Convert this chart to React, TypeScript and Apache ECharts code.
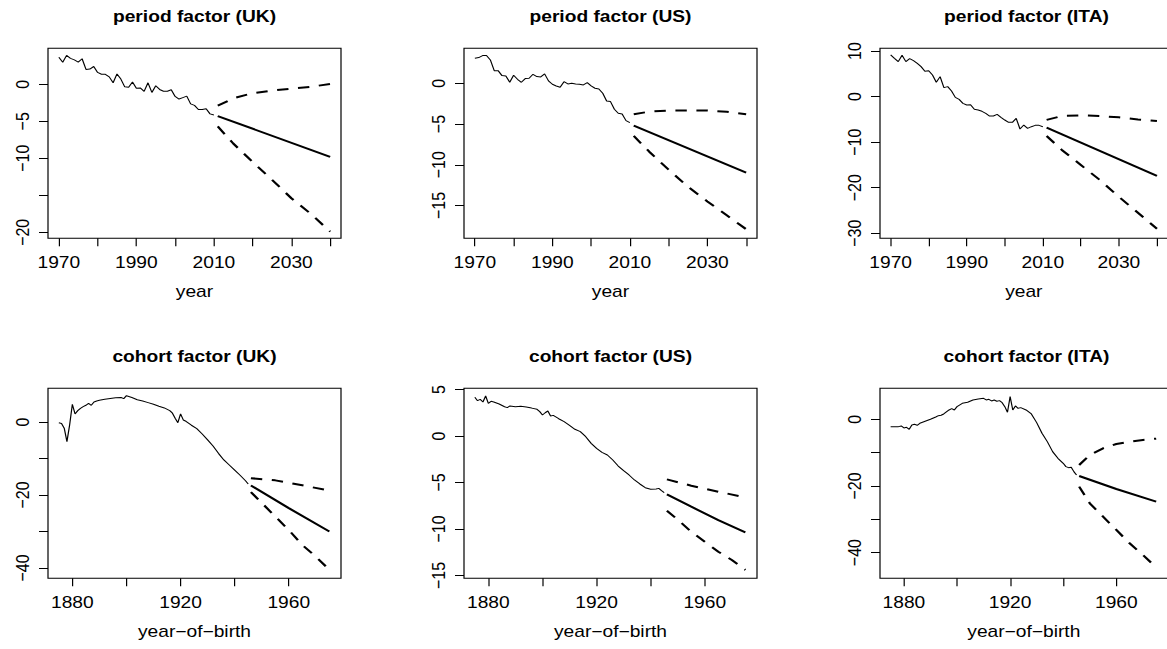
import React, { useEffect, useRef } from "react";
import * as echarts from "echarts";

// ---------------- data ----------------
const periodTicks = [1970, 1980, 1990, 2000, 2010, 2020, 2030, 2040];
const periodLabels = [1970, 1990, 2010, 2030];
const cohortTicks = [1880, 1900, 1920, 1940, 1960];
const cohortLabels = [1880, 1920, 1960];

// UK period
const ukPeriodHist = [
  [1970, 3.65], [1971, 2.97], [1972, 3.9], [1973, 3.5], [1974, 3.3], [1975, 3.0], [1976, 3.45],
  [1977, 2.0], [1978, 2.05], [1979, 2.4], [1980, 1.6], [1981, 1.35], [1982, 1.35], [1983, 1.0],
  [1984, 0.2], [1985, 1.4], [1986, 0.7], [1987, -0.35], [1988, -0.4], [1989, 0.3], [1990, -0.55],
  [1991, -0.5], [1992, -0.95], [1993, 0.2], [1994, -1.1], [1995, -0.2], [1996, -0.7], [1997, -0.95],
  [1998, -0.95], [1999, -0.75], [2000, -1.65], [2001, -2.0], [2002, -1.8], [2003, -1.6], [2004, -2.65],
  [2005, -2.85], [2006, -3.4], [2007, -3.4], [2008, -3.3], [2009, -4.0], [2010, -4.15],
];
const ukPeriodMid = [[2011, -4.3], [2040, -9.8]];
const ukPeriodUp = [[2011, -2.9], [2015, -1.9], [2020, -1.2], [2025, -0.85], [2030, -0.6], [2035, -0.35], [2040, 0.05]];
const ukPeriodLow = [[2011, -5.7], [2015, -8.0], [2020, -10.5], [2025, -12.9], [2030, -15.4], [2035, -17.5], [2040, -19.9]];

// US period
const usPeriodHist = [
  [1970, 3.07], [1971, 3.15], [1972, 3.4], [1973, 3.4], [1974, 2.86], [1975, 1.55], [1976, 1.55],
  [1977, 0.94], [1978, 0.9], [1979, 0.12], [1980, 0.98], [1981, 0.49], [1982, 0.12], [1983, 0.57],
  [1984, 0.61], [1985, 1.1], [1986, 0.82], [1987, 0.78], [1988, 1.15], [1989, 0.29], [1990, -0.12],
  [1991, -0.33], [1992, -0.49], [1993, 0.2], [1994, -0.08], [1995, 0.0], [1996, -0.08], [1997, -0.12],
  [1998, -0.2], [1999, 0.08], [2000, -0.33], [2001, -0.61], [2002, -0.7], [2003, -1.23], [2004, -2.17],
  [2005, -2.25], [2006, -3.19], [2007, -3.68], [2008, -3.76], [2009, -4.58], [2010, -4.83],
];
const usPeriodMid = [[2011, -5.2], [2040, -10.96]];
const usPeriodUp = [[2011, -3.8], [2015, -3.48], [2020, -3.35], [2025, -3.35], [2030, -3.35], [2035, -3.5], [2040, -3.8]];
const usPeriodLow = [[2011, -6.46], [2015, -8.4], [2020, -10.6], [2025, -12.7], [2030, -14.5], [2035, -16.2], [2040, -17.9]];

// ITA period
const itaPeriodHist = [
  [1970, 9.16], [1971, 8.42], [1972, 7.69], [1973, 9.08], [1974, 7.69], [1975, 8.35], [1976, 7.9],
  [1977, 7.3], [1978, 6.6], [1979, 5.57], [1980, 5.7], [1981, 4.76], [1982, 3.15], [1983, 4.4],
  [1984, 1.98], [1985, 2.2], [1986, 1.25], [1987, -0.15], [1988, -0.59], [1989, -1.47], [1990, -1.83],
  [1991, -1.76], [1992, -2.78], [1993, -2.93], [1994, -3.22], [1995, -3.66], [1996, -4.25], [1997, -4.25],
  [1998, -3.88], [1999, -4.54], [2000, -5.13], [2001, -5.64], [2002, -5.64], [2003, -4.76], [2004, -7.1],
  [2005, -6.23], [2006, -6.96], [2007, -6.59], [2008, -6.3], [2009, -6.3], [2010, -6.59],
];
const itaPeriodMid = [[2011, -6.8], [2040, -17.4]];
const itaPeriodUp = [[2011, -5.1], [2015, -4.25], [2020, -4.1], [2025, -4.25], [2030, -4.54], [2035, -5.0], [2040, -5.35]];
const itaPeriodLow = [[2011, -8.64], [2015, -11.7], [2020, -15.0], [2025, -18.3], [2030, -22.0], [2035, -25.5], [2040, -29.0]];

// UK cohort
const ukCohortHist = [
  [1875, -0.2], [1876, -0.4], [1877, -1.7], [1878, -5.4], [1879, -0.8], [1880, 4.84], [1881, 2.2],
  [1882, 3.1], [1883, 3.74], [1884, 4.2], [1885, 4.57], [1886, 5.1], [1887, 4.57], [1888, 5.48],
  [1889, 5.75], [1890, 5.94], [1892, 6.2], [1894, 6.4], [1896, 6.6], [1898, 6.7], [1899, 6.4],
  [1900, 7.2], [1902, 6.7], [1904, 6.1], [1906, 5.75], [1908, 5.3], [1910, 4.84], [1912, 4.3],
  [1914, 3.84], [1916, 3.1], [1917, 2.4], [1918, 1.0], [1919, -0.2], [1920, 2.2], [1921, 0.55],
  [1922, 0.18], [1924, -0.9], [1926, -1.83], [1928, -3.3], [1930, -4.9], [1932, -6.6], [1934, -8.6],
  [1936, -10.4], [1938, -11.8], [1940, -13.2], [1942, -14.6], [1944, -16.1], [1945, -17.0],
];
const ukCohortMid = [[1946, -17.4], [1960, -23.6], [1975, -30.0]];
const ukCohortUp = [[1946, -15.4], [1955, -16.0], [1965, -17.35], [1975, -18.8]];
const ukCohortLow = [[1946, -19.2], [1955, -25.9], [1960, -29.6], [1965, -33.7], [1970, -36.9], [1975, -40.5]];

// US cohort
const usCohortHist = [
  [1875, 4.16], [1876, 3.8], [1877, 3.94], [1878, 3.66], [1879, 4.3], [1880, 3.5], [1881, 3.73],
  [1882, 3.66], [1884, 3.44], [1886, 3.15], [1887, 3.05], [1888, 3.23], [1890, 3.15], [1892, 3.19],
  [1894, 3.12], [1896, 3.0], [1898, 2.87], [1899, 2.62], [1900, 2.26], [1901, 2.5], [1902, 2.69],
  [1903, 2.15], [1904, 2.22], [1906, 1.86], [1908, 1.54], [1910, 1.15], [1912, 0.72], [1914, 0.47],
  [1916, -0.07], [1918, -0.79], [1920, -1.33], [1922, -1.76], [1924, -2.04], [1926, -2.58], [1928, -3.23],
  [1930, -3.73], [1932, -4.19], [1934, -4.73], [1936, -5.16], [1938, -5.56], [1940, -5.73], [1942, -5.7],
  [1943, -5.63], [1944, -5.88], [1945, -6.1],
];
const usCohortMid = [[1946, -6.27], [1955, -7.6], [1965, -9.05], [1975, -10.36]];
const usCohortUp = [[1946, -4.66], [1955, -5.34], [1965, -5.99], [1975, -6.6]];
const usCohortLow = [[1946, -8.03], [1950, -9.0], [1955, -10.3], [1960, -11.36], [1965, -12.44], [1970, -13.33], [1975, -14.4]];

// ITA cohort
const itaCohortHist = [
  [1875, -2.2], [1876, -2.2], [1878, -2.2], [1879, -2.0], [1880, -2.6], [1881, -2.4], [1882, -3.0],
  [1883, -1.7], [1884, -1.5], [1885, -1.8], [1886, -1.2], [1888, -0.6], [1890, 0.0], [1892, 0.7],
  [1893, 1.1], [1894, 1.2], [1895, 1.6], [1896, 2.2], [1897, 2.8], [1898, 3.2], [1899, 2.8],
  [1900, 3.8], [1902, 4.8], [1904, 5.1], [1906, 5.8], [1908, 6.1], [1910, 6.3], [1911, 5.8],
  [1912, 6.0], [1913, 5.5], [1914, 5.8], [1915, 5.4], [1916, 5.6], [1917, 5.0], [1918, 3.8],
  [1919, 2.1], [1920, 6.8], [1921, 2.8], [1922, 4.0], [1923, 3.3], [1924, 3.5], [1926, 2.8],
  [1928, 1.6], [1930, -1.0], [1932, -4.2], [1934, -6.7], [1936, -9.7], [1938, -11.7], [1940, -13.2],
  [1941, -14.2], [1942, -14.5], [1943, -14.4], [1944, -15.7], [1945, -16.7],
];
const itaCohortMid = [[1946, -17.0], [1960, -20.9], [1975, -24.7]];
const itaCohortUp = [[1946, -13.7], [1950, -10.7], [1955, -8.7], [1960, -7.4], [1965, -6.7], [1970, -6.2], [1975, -5.8]];
const itaCohortLow = [[1946, -20.2], [1950, -25.2], [1955, -29.2], [1960, -33.2], [1965, -37.2], [1970, -40.7], [1975, -44.4]];

const titles = [
  "period factor (UK)", "period factor (US)", "period factor (ITA)",
  "cohort factor (UK)", "cohort factor (US)", "cohort factor (ITA)",
];

// y axis ticks / labels per panel
const yTicks = [
  [0, -5, -10, -15, -20], [0, -5, -10, -15], [10, 0, -10, -20, -30],
  [0, -10, -20, -30, -40], [5, 0, -5, -10, -15], [0, -10, -20, -30, -40],
];
const yLabels = [
  [0, -5, -10, -20], [0, -5, -10, -15], [10, 0, -10, -20, -30],
  [0, -20, -40], [5, 0, -5, -10, -15], [0, -20, -40],
];
const yRanges = [
  [-20.81, 4.86], [-19.02, 4.29], [-31.1, 10.62],
  [-42.83, 9.22], [-15.3, 5.13], [-47.7, 9.3],
];

// ---------------- layout ----------------
const K = 1.2; // horizontal stretch of the reference
const W = 1167 / K;
const H = 649;
const COL_LEFT = [48, 464, 880];
const ROW_TOP = [48.3, 388.3];
const BOX_W = 293;
const BOX_H = 190;
const FONT = "'Liberation Sans', Arial, Helvetica, sans-serif";
const FS = 16;

const fmt = (v: number) => (v < 0 ? "\u2212" + Math.abs(v) : String(v));

function buildOption() {
  const panels = [
    [ukPeriodHist, ukPeriodMid, ukPeriodUp, ukPeriodLow],
    [usPeriodHist, usPeriodMid, usPeriodUp, usPeriodLow],
    [itaPeriodHist, itaPeriodMid, itaPeriodUp, itaPeriodLow],
    [ukCohortHist, ukCohortMid, ukCohortUp, ukCohortLow],
    [usCohortHist, usCohortMid, usCohortUp, usCohortLow],
    [itaCohortHist, itaCohortMid, itaCohortUp, itaCohortLow],
  ];
  const grid: any[] = [];
  const xAxis: any[] = [];
  const yAxis: any[] = [];
  const series: any[] = [];
  const title: any[] = [];
  panels.forEach((p, i) => {
    const col = i % 3;
    const row = Math.floor(i / 3);
    const isPeriod = row === 0;
    grid.push({
      left: COL_LEFT[col] / K,
      top: ROW_TOP[row],
      width: BOX_W / K,
      height: BOX_H,
      show: true,
      borderColor: "#000",
      borderWidth: 1,
      backgroundColor: "transparent",
    });
    xAxis.push({
      type: "value",
      gridIndex: i,
      min: isPeriod ? 1967.2 : 1871,
      max: isPeriod ? 2042.8 : 1979.3,
      axisLine: { show: false, onZero: false },
      splitLine: { show: false },
      axisTick: {
        show: true,
        length: 8,
        inside: false,
        customValues: isPeriod ? periodTicks : cohortTicks,
        lineStyle: { color: "#000", width: 1 },
      },
      axisLabel: {
        customValues: isPeriod ? periodLabels : cohortLabels,
        formatter: (v: number) => String(v),
        color: "#000",
        fontSize: FS,
        fontFamily: FONT,
        margin: 16.5,
      },
      name: isPeriod ? "year" : "year\u2212of\u2212birth",
      nameLocation: "middle",
      nameGap: 45.5,
      nameTextStyle: { color: "#000", fontSize: FS, fontFamily: FONT },
    });
    yAxis.push({
      type: "value",
      gridIndex: i,
      min: yRanges[i][0],
      max: yRanges[i][1],
      axisLine: { show: false, onZero: false },
      splitLine: { show: false },
      axisTick: {
        show: true,
        length: 7.5,
        inside: false,
        customValues: yTicks[i],
        lineStyle: { color: "#000", width: 1 },
      },
      axisLabel: {
        customValues: yLabels[i],
        formatter: fmt,
        rotate: 90,
        color: "#000",
        fontSize: FS,
        fontFamily: FONT,
        margin: 13.5,
      },
    });
    const styles = [
      { width: 1, type: "solid" },
      { width: 2, type: "solid" },
      { width: 2, type: [9.5, 8] },
      { width: 2, type: [9.5, 8] },
    ];
    p.forEach((d, j) => {
      series.push({
        type: "line",
        xAxisIndex: i,
        yAxisIndex: i,
        data: d,
        symbol: "none",
        showSymbol: false,
        silent: true,
        lineStyle: { color: "#000", width: styles[j].width, type: styles[j].type },
      });
    });
    title.push({
      text: titles[i],
      left: (COL_LEFT[col] + BOX_W / 2) / K,
      top: row === 0 ? 9 : 349,
      textAlign: "center",
      padding: 0,
      textStyle: { fontSize: 16, fontWeight: "bold", color: "#000", fontFamily: FONT },
    });
  });
  return {
    animation: false,
    backgroundColor: "#fff",
    title,
    grid,
    xAxis,
    yAxis,
    series,
  };
}

export default function App() {
  const ref = useRef<HTMLDivElement>(null);
  useEffect(() => {
    if (!ref.current) return;
    const chart = echarts.init(ref.current, undefined, { renderer: "svg" });
    chart.setOption(buildOption());
    return () => chart.dispose();
  }, []);
  return (
    <div
      style={{
        position: "absolute",
        left: 0,
        top: 0,
        width: 1167,
        height: 649,
        overflow: "hidden",
        background: "#fff",
      }}
    >
      <div
        ref={ref}
        style={{
          width: W,
          height: H,
          transform: `scaleX(${K})`,
          transformOrigin: "0 0",
        }}
      />
    </div>
  );
}
